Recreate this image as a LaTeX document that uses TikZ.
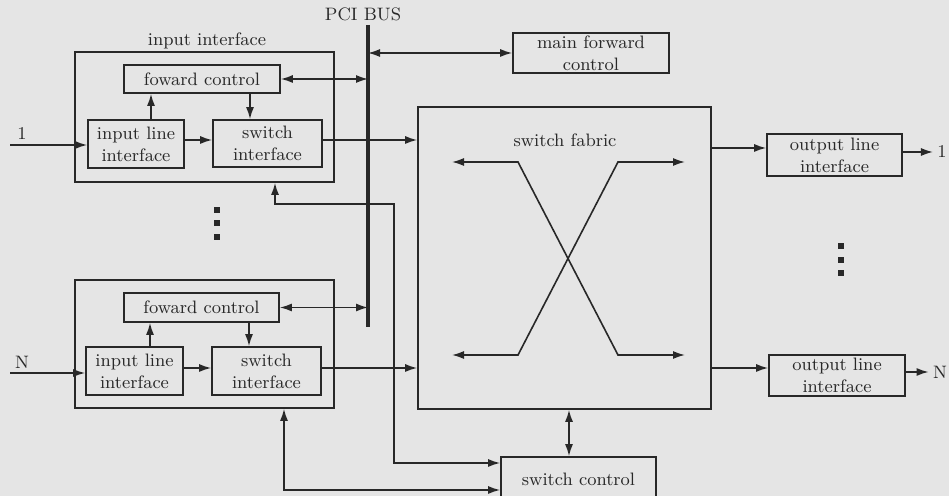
\documentclass[tikz,border=0pt]{standalone}
\usetikzlibrary{arrows.meta}
\definecolor{paper}{RGB}{229,229,229}
\definecolor{ink}{RGB}{40,40,40}
\begin{document}
\begin{tikzpicture}[x=.5pt,y=-.5pt,font=\small,
    box/.style={draw=ink,line width=.8pt,inner sep=0pt,align=center,text=ink},
    lbl/.style={text=ink,inner sep=2pt},
    link/.style={draw=ink,line width=.8pt,-{Latex[length=6pt,width=4pt]}},
    both/.style={link,{Latex[length=6pt,width=4pt]}-{Latex[length=6pt,width=4pt]}},
    dot/.style={rectangle,fill=ink,inner sep=1.3pt}]
  \fill[paper] (0,0) rectangle (949,496);
  \useasboundingbox (0,0) rectangle (949,496);
  % Eingangsseite, oberer Block
  \node[box,minimum width=129.5pt,minimum height=65pt] (iiA) at (204.5,117) {};
  \node[lbl] (iiAlbl) at (207,41) {input interface};
  \node[box,minimum width=78pt,minimum height=14pt] (fwdA) at (202,79) {foward control};
  \node[box,minimum width=48pt,minimum height=24pt] (inlA) at (136,144) {input line\\interface};
  \node[box,minimum width=54.5pt,minimum height=23.5pt] (swiA) at (267.5,143.5) {switch\\interface};
  \coordinate (inA) at (10,145);
  \node[lbl] (inAlbl) at (22,134) {1};
  % Eingangsseite, unterer Block
  \node[box,minimum width=129.5pt,minimum height=64pt] (iiB) at (204.5,344) {};
  \node[box,minimum width=77.5pt,minimum height=14.5pt] (fwdB) at (201.5,307.5) {foward control};
  \node[box,minimum width=48.5pt,minimum height=24pt] (inlB) at (134.5,371) {input line\\interface};
  \node[box,minimum width=54.5pt,minimum height=24pt] (swiB) at (266.5,371) {switch\\interface};
  \coordinate (inB) at (10,373);
  \node[lbl] (inBlbl) at (22,362) {N};
  \foreach \y in {210,223,237}{\node[dot] (dl\y) at (217,\y) {};}
  % Bus und Steuerung
  \coordinate (busT) at (368,25);
  \coordinate (busB) at (368,327);
  \draw[ink,line width=2.4pt] (busT) -- (busB);
  \node[lbl] (pci) at (363,14) {PCI BUS};
  \node[box,minimum width=78pt,minimum height=20pt] (mfc) at (591,53) {main forward\\control};
  \node[box,minimum width=146.5pt,minimum height=151pt] (fabric) at (564.5,258) {};
  \node[lbl] (fablbl) at (565,140) {switch fabric};
  \node[box,minimum width=77.5pt,minimum height=22pt] (swc) at (578.5,479) {switch control};
  % Ausgangsseite
  \node[box,minimum width=67.5pt,minimum height=21pt] (outA) at (834.5,155) {output line\\interface};
  \node[box,minimum width=68pt,minimum height=20.5pt] (outB) at (837,375.5) {output line\\interface};
  \node[lbl] (oA) at (942,152) {1};
  \node[lbl] (oB) at (940,372) {N};
  \foreach \y in {246,260,273}{\node[dot] (dr\y) at (841,\y) {};}
  % Verbindungen
  \draw[link] (inA) -- (inA -| inlA.west);
  \draw[link] ([xshift=7.5pt]inlA.north) -- ([xshift=7.5pt]inlA.north |- fwdA.south);
  \draw[link] ([xshift=-8.75pt]fwdA.south -| swiA.north) -- ([xshift=-8.75pt]swiA.north);
  \draw[link] ([yshift=2pt]inlA.east) -- ([yshift=2pt]inlA.east -| swiA.west);
  \draw[link] ([yshift=1.75pt]swiA.east) -- ([yshift=1.75pt]swiA.east -| fabric.west);
  \draw[both] (fwdA.east) -- (fwdA.east -| busT);
  \draw[link] (inB) -- (inB -| inlB.west);
  \draw[link] ([xshift=7.75pt]inlB.north) -- ([xshift=7.75pt]inlB.north |- fwdB.south);
  \draw[link] ([xshift=-8.75pt]fwdB.south -| swiB.north) -- ([xshift=-8.75pt]swiB.north);
  \draw[link] ([yshift=1.5pt]inlB.east) -- ([yshift=1.5pt]inlB.east -| swiB.west);
  \draw[link] ([yshift=1.5pt]swiB.east) -- ([yshift=1.5pt]swiB.east -| fabric.west);
  \draw[both] (fwdB.east) -- (fwdB.east -| busT);
  \draw[both] (mfc.west -| busT) -- (mfc.west);
  \draw[both] ([xshift=2.25pt]fabric.south) -- ([xshift=2.25pt]fabric.south |- swc.north);
  \coordinate (knee) at (394,204);
  \draw[both] ([yshift=8pt]swc.west) -| (knee) -| ([xshift=35.25pt]iiA.south);
  \draw[both] ([yshift=-5.5pt]swc.west) -| ([xshift=39.75pt]iiB.south);
  \draw[link] ([yshift=3.5pt]outA.west -| fabric.east) -- ([yshift=3.5pt]outA.west);
  \draw[link] (outA.east |- oA) -- (oA.west);
  \draw[link] ([yshift=3.75pt]outB.west -| fabric.east) -- ([yshift=3.75pt]outB.west);
  \draw[link] (outB.east |- oB) -- (oB.west);
  % Kreuzung im Koppelfeld
  \draw[both] (452,162) -- (518,162) -- (618,355) -- (685,355);
  \draw[both] (452,355) -- (518,355) -- (618,162) -- (685,162);
\end{tikzpicture}
\end{document}
